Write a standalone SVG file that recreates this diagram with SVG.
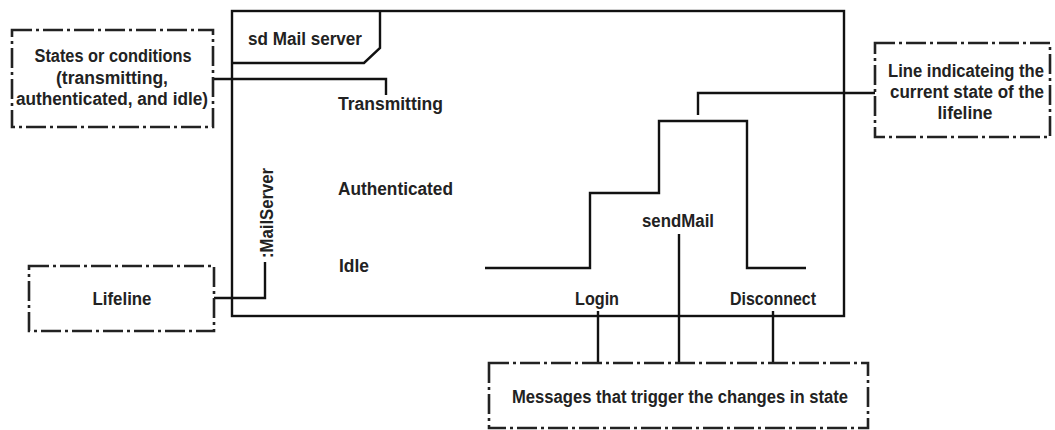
<svg xmlns="http://www.w3.org/2000/svg" width="1055" height="430" viewBox="0 0 1055 430">
<style>
text{font-family:"Liberation Sans",Arial,sans-serif;font-weight:bold;font-size:17.5px;fill:#222}
.note{fill:#fff;stroke:#222;stroke-width:2.6;stroke-dasharray:20 4 3 4}
.ln{fill:none;stroke:#111;stroke-width:2.4}
.c{text-anchor:middle}
</style>
<rect width="1055" height="430" fill="#fff"/>
<g id="frame">
<rect x="232" y="11" width="612" height="305" class="ln"/>
<path d="M232 63 H364 L380 48 V11" class="ln"/>
<text x="248" y="45" textLength="114" lengthAdjust="spacingAndGlyphs">sd  Mail server</text>
</g>
<g id="states-labels">
<text x="338" y="110" textLength="105" lengthAdjust="spacingAndGlyphs">Transmitting</text>
<text x="338" y="195" textLength="115" lengthAdjust="spacingAndGlyphs">Authenticated</text>
<text x="339" y="272" textLength="30" lengthAdjust="spacingAndGlyphs">Idle</text>
</g>
<g id="lifeline-name">
<text transform="translate(273,258) rotate(-90)" textLength="90" lengthAdjust="spacingAndGlyphs">:MailServer</text>
</g>
<g id="state-line">
<path d="M485 268 H590 V193 H659 V121 H747 V268 H806" class="ln"/>
</g>
<g id="messages">
<text x="678" y="227" class="c" textLength="72" lengthAdjust="spacingAndGlyphs">sendMail</text>
<text x="597" y="305" class="c" textLength="44" lengthAdjust="spacingAndGlyphs">Login</text>
<text x="773" y="305" class="c" textLength="86" lengthAdjust="spacingAndGlyphs">Disconnect</text>
</g>
<g id="connectors">
<path d="M213 79 H386 V95" class="ln"/>
<path d="M265 262 V298 H214" class="ln"/>
<path d="M698 115 V93 H875" class="ln"/>
<path d="M679 234 V363" class="ln"/>
<path d="M598 311 V363" class="ln"/>
<path d="M773 311 V363" class="ln"/>
</g>
<g id="note-states">
<rect x="12" y="30" width="201" height="97" class="note"/>
<text x="113" y="62" class="c" textLength="157" lengthAdjust="spacingAndGlyphs">States or conditions</text>
<text x="112" y="84" class="c" textLength="112" lengthAdjust="spacingAndGlyphs">(transmitting,</text>
<text x="112" y="105" class="c" textLength="192" lengthAdjust="spacingAndGlyphs">authenticated, and idle)</text>
</g>
<g id="note-lifeline">
<rect x="29" y="266" width="185" height="65" class="note"/>
<text x="122" y="305" class="c" textLength="59" lengthAdjust="spacingAndGlyphs">Lifeline</text>
</g>
<g id="note-current">
<rect x="875" y="43" width="175" height="94" class="note"/>
<text x="966" y="77" class="c" textLength="156" lengthAdjust="spacingAndGlyphs">Line indicateing the</text>
<text x="967" y="98" class="c" textLength="154" lengthAdjust="spacingAndGlyphs">current state of the</text>
<text x="965" y="119" class="c" textLength="55" lengthAdjust="spacingAndGlyphs">lifeline</text>
</g>
<g id="note-messages">
<rect x="489" y="363" width="379" height="65" class="note"/>
<text x="680" y="403" class="c" textLength="336" lengthAdjust="spacingAndGlyphs">Messages that trigger the changes in state</text>
</g>
</svg>
